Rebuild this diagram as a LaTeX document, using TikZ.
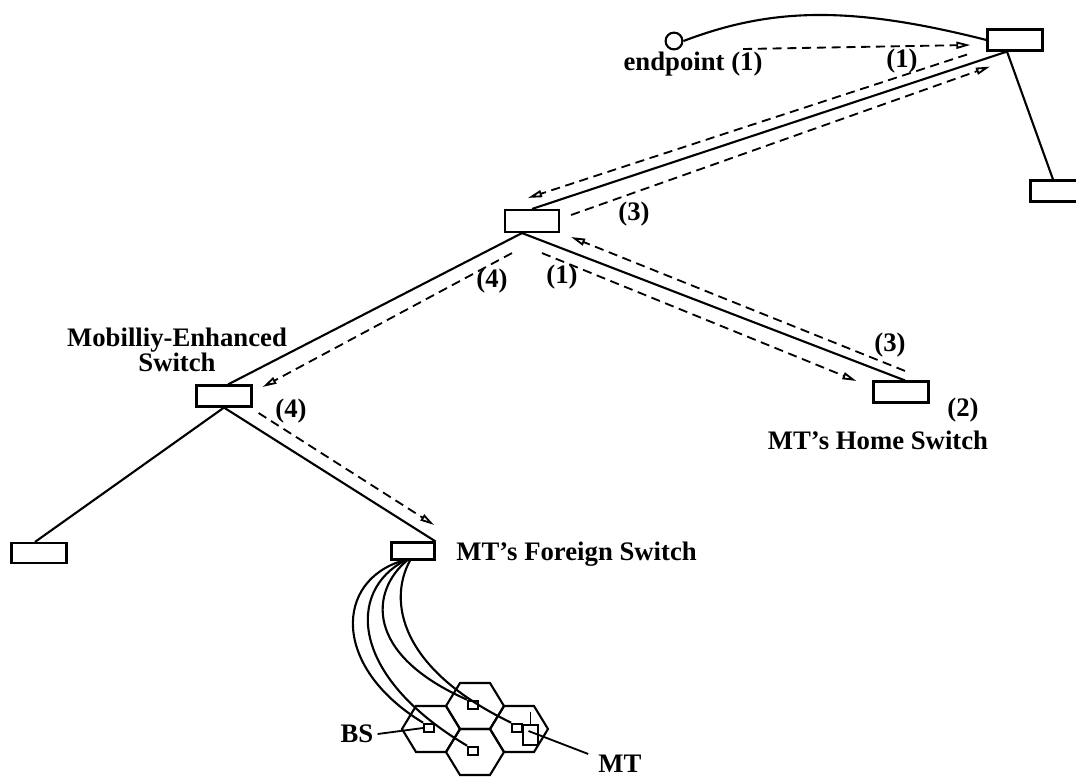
\documentclass[tikz,border=0pt]{standalone}
\usepackage{fontspec}
\setmainfont{Liberation Serif}
\usepackage{tikz}
\usetikzlibrary{positioning,arrows.meta,calc}

\begin{document}
\begin{tikzpicture}[x=0.025cm,y=-0.025cm,
   font=\bfseries\fontsize{19}{18}\selectfont,
   sw/.style={draw,line width=1.5pt,minimum width=1.375cm,minimum height=0.525cm,inner sep=0pt},
   bs/.style={draw,line width=1.3pt,minimum width=0.25cm,minimum height=0.22cm,inner sep=0pt},
   wire/.style={line width=1.5pt},
   msg/.style={line width=1.3pt,dash pattern=on 6.5pt off 4pt,
               -{Triangle[open,length=10pt,width=5pt]}},
   lbl/.style={inner sep=0pt}]
\useasboundingbox (0,0) rectangle (1076,781);

% switches
\node[sw] (root) at (1015,40) {};
\node[sw] (rchild) at (1058,191) {};
\node[sw,minimum width=1.35cm,minimum height=0.55cm] (mid) at (532,221) {};
\node[sw] (home) at (901,392) {};
\node[sw] (mes) at (224,396) {};
\node[sw,minimum height=0.5cm] (leaf) at (39,553) {};
\node[sw,minimum width=1.075cm,minimum height=0.425cm] (foreign) at (413,551) {};

% endpoint
\node[draw,circle,line width=1.5pt,minimum size=0.42cm,inner sep=0pt] (ep) at (674,41) {};
\draw[wire] (ep.east) .. controls +(87,-33) and +(-138,-35) .. (root.west);

% tree links
\draw[wire] ($(root.south)+(-8,0)$) -- (mid.north);
\draw[wire] ($(root.south)+(-8,0)$) -- ($(rchild.north)+(-5,0)$);
\draw[wire] ($(mid.south)+(-10,0)$) -- ($(home.north)+(4,0)$);
\draw[wire] ($(mid.south)+(-10,0)$) -- ($(mes.north)+(4,0)$);
\draw[wire] (mes.south) -- ($(leaf.north)+(-4,0)$);
\draw[wire] (mes.south) -- (foreign.north east);

% messages
\draw[msg] ($(ep)+(69,8)$) -- ($(root.west)+(-16,5)$);
\draw[msg] ($(root.south)+(-48,3)$) -- ($(mid.north)+(-4,-11)$);
\draw[msg] ($(mid.east)+(11,-6)$) -- ($(root.south)+(-25,15)$);
\draw[msg] ($(home.north)+(4,-9.5)$) -- ($(mid.east)+(11,16)$);
\draw[msg] ($(mid.south)+(10,20)$) -- ($(home.west)+(-16,-11)$);
\draw[msg] ($(mid.south)+(-20,20)$) -- ($(mes.east)+(10,-9)$);
\draw[msg] ($(mes.east)+(6,17)$) -- ($(foreign.north east)+(-1.5,-16.5)$);

% labels
\node[lbl] (lep) at (693,64) {endpoint (1)};
\node[lbl] (la) at (902,61) {(1)};
\node[lbl] (lb) at (634,214) {(3)};
\node[lbl] (lc) at (562,277) {(1)};
\node[lbl] (ld) at (492,281) {(4)};
\node[lbl] (le) at (890,345) {(3)};
\node[lbl] (lf) at (963,410) {(2)};
\node[lbl] (lg) at (291,411) {(4)};
\node[lbl] (lhome) at (878,440) {MT's Home Switch};
\node[lbl,align=center] (lmes) at (177,350) {Mobilliy-Enhanced\\Switch};
\node[lbl,anchor=base west] (lfor) at (456,560) {MT's Foreign Switch};

% cells
\foreach \cx/\cy/\nm in {431/729/bsa,475/706/bsb,475/752/bsc,519/729/bsd}{
  \draw[line width=1.5pt] (\cx-29,\cy) -- (\cx-15,\cy-23) -- (\cx+15,\cy-23)
     -- (\cx+29,\cy) -- (\cx+15,\cy+23) -- (\cx-15,\cy+23) -- cycle;
  \node[bs] (\nm) at (\cx-2,\cy-1) {};
}

% radio links
\draw[wire] ($(foreign.south)+(-10,0)$) .. controls +(-68,20) and +(-92,-56) .. (bsa.north west);
\draw[wire] ($(foreign.south)+(-8,0)$) .. controls +(-58,30) and +(-118,-70) .. (bsc.north west);
\draw[wire] ($(foreign.south)+(-6,0)$) .. controls +(-36,30) and +(-104,-46) .. (bsb.north west);
\draw[wire] ($(foreign.south)+(-3,0)$) .. controls +(-22,40) and +(-112,-54) .. (bsd.north west);

% mobile terminal
\node[draw,line width=1.5pt,minimum width=0.375cm,minimum height=0.5cm,inner sep=0pt] (mt) at (530.5,735) {};
\draw[line width=1.3pt] (mt.north) -- ++(0,-12) coordinate (ant);
\node[lbl] (lbs) at (357,734) {BS};
\node[lbl] (lmt) at (620,764) {MT};
\draw[line width=1.3pt] (lbs.east) ++(4,0) -- (bsa.west);
\draw[line width=1.3pt] ($(mt.center)+(-2,-4)$) -- ($(lmt.north west)+(-10,-1)$);
\end{tikzpicture}
\end{document}
